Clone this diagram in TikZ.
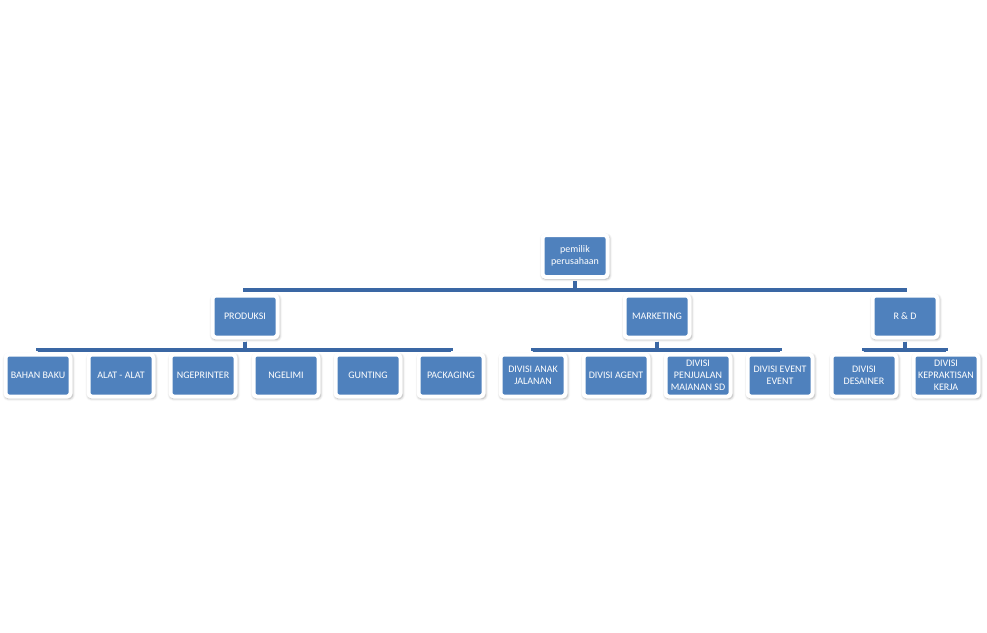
\documentclass[tikz,border=0pt]{standalone}
\usepackage{fontspec}
\setmainfont{Carlito}
\usepackage{tikz}
\usetikzlibrary{shadows.blur}
\definecolor{boxblue}{HTML}{4F81BD}
\definecolor{linkblue}{HTML}{3A67A4}

\begin{document}
\begin{tikzpicture}[x=0.75pt, y=-0.75pt,
  unit/.style={fill=boxblue, draw=white, line width=3pt, rounded corners=2.5pt, text=white, align=center,
    font=\fontsize{7.5}{9}\selectfont, minimum width=48.75pt, minimum height=31.5pt, inner sep=1pt,
    blur shadow={shadow xshift=0.6pt, shadow yshift=-0.9pt, shadow opacity=35, shadow blur radius=1.8pt,
      shadow blur steps=6, shadow scale=1.04}},
  link/.style={draw=linkblue, line width=2.3pt, shorten <=1.5pt, shorten >=1.5pt},
]
\useasboundingbox (0,0) rectangle (987,632);
% top level
\node[unit] (owner) at (575,256) {pemilik\\perusahaan};
\node[unit] (prod) at (245,316.5) {PRODUKSI};
\node[unit] (mkt) at (657,316.5) {MARKETING};
\node[unit] (rnd) at (905,316.5) {R \& D};
% produksi
\node[unit] (baku) at (38,375.5) {BAHAN BAKU};
\node[unit] (alat) at (121,375.5) {ALAT - ALAT};
\node[unit] (printer) at (203,375.5) {NGEPRINTER};
\node[unit] (lem) at (286,375.5) {NGELIMI};
\node[unit] (gunting) at (368,375.5) {GUNTING};
\node[unit] (pack) at (451,375.5) {PACKAGING};
% marketing
\node[unit] (anak) at (533,375.5) {DIVISI ANAK\\JALANAN};
\node[unit] (agent) at (616,375.5) {DIVISI AGENT};
\node[unit] (jual) at (698,375.5) {DIVISI\\PENJUALAN\\MAIANAN SD};
\node[unit] (event) at (780,375.5) {DIVISI EVENT\\EVENT};
% r & d
\node[unit] (desain) at (864,375.5) {DIVISI\\DESAINER};
\node[unit] (kerja) at (946,375.5) {DIVISI\\KEPRAKTISAN\\KERJA};
% connectors
\foreach \c in {prod,mkt,rnd}
  \draw[link] (owner.south) -- ++(0,11) -| (\c.north);
\foreach \c in {baku,alat,printer,lem,gunting,pack}
  \draw[link] (prod.south) -- ++(0,10.5) -| (\c.north);
\foreach \c in {anak,agent,jual,event}
  \draw[link] (mkt.south) -- ++(0,10.5) -| (\c.north);
\foreach \c in {desain,kerja}
  \draw[link] (rnd.south) -- ++(0,10.5) -| (\c.north);
\end{tikzpicture}
\end{document}
